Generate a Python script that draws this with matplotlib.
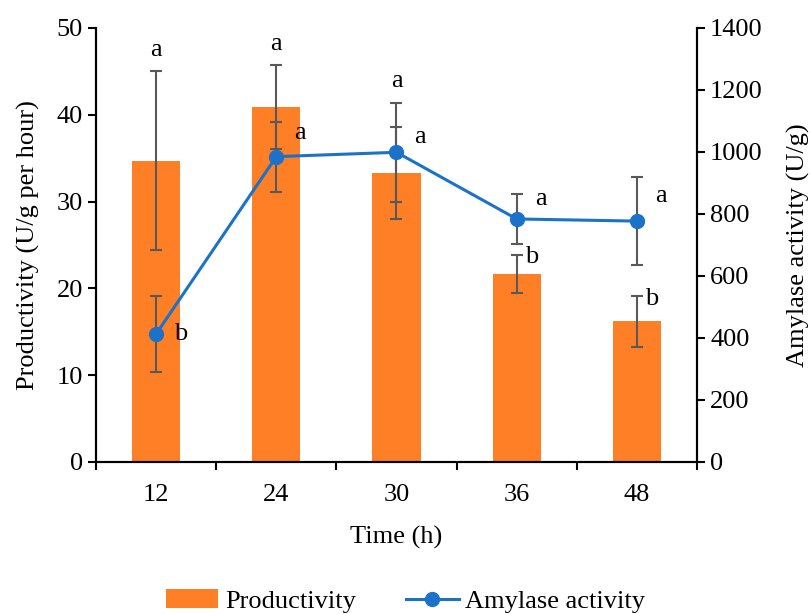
import numpy as np
import matplotlib
matplotlib.use("Agg")
import matplotlib.pyplot as plt
from matplotlib.lines import Line2D
from matplotlib.patches import Patch

plt.rcParams["font.family"] = ["Liberation Serif", "DejaVu Serif"]

# ── data ──────────────────────────────────────────────────────────────────────
times = ["12", "24", "30", "36", "48"]
productivity = [34.7, 40.9, 33.3, 21.7, 16.2]
productivity_err = [10.3, 4.8, 5.3, 2.2, 2.9]
productivity_letters = ["a", "a", "a", "b", "b"]

amylase = [413, 985, 999, 784, 777]
amylase_err = [124, 113, 160, 80, 141]
amylase_letters = ["b", "a", "a", "a", "a"]

ORANGE = "#FF7F27"
BLUE = "#1C72C9"
GREY = "#595959"
FS = 19

x = np.arange(len(times))

fig = plt.figure(figsize=(8.11, 6.14), dpi=100)
ax = fig.add_axes([0.1184, 0.2476, 0.741, 0.7068])
ax2 = ax.twinx()

# ── bars (left axis) ──────────────────────────────────────────────────────────
ax.bar(x, productivity, width=0.4, color=ORANGE, zorder=2)
ax.errorbar(x, productivity, yerr=productivity_err, fmt="none", ecolor=GREY,
            elinewidth=1.5, capsize=4.5, capthick=1.5, zorder=3)
ax.set_ylim(0, 50)
ax.set_xlim(-0.5, len(times) - 0.5)
ax.set_yticks(range(0, 51, 10))
ax.set_ylabel("Productivity (U/g per hour)", fontsize=FS, labelpad=12)
ax.set_xlabel("Time (h)", fontsize=FS, labelpad=14)
ax.set_xticks(x)
ax.set_xticklabels(times)
ax.set_xticks(np.arange(-0.5, len(times)), minor=True)
ax.tick_params(axis="x", which="major", length=0, labelsize=FS, pad=16)
ax.tick_params(axis="x", which="minor", length=6, width=1.5, direction="out")
ax.tick_params(axis="y", labelsize=FS, length=6, width=1.5, direction="out")

# ── line (right axis) ─────────────────────────────────────────────────────────
ax2.errorbar(x, amylase, yerr=amylase_err, fmt="none", ecolor=GREY,
             elinewidth=1.5, capsize=4.5, capthick=1.5, zorder=3)
ax2.plot(x, amylase, color=BLUE, lw=2.2, marker="o", ms=10, zorder=4)
ax2.set_ylim(0, 1400)
ax2.set_yticks(range(0, 1401, 200))
ax2.set_ylabel("Amylase activity (U/g)", fontsize=FS, labelpad=17)
ax2.tick_params(axis="y", labelsize=FS, length=6, width=1.5, direction="out")

for a in (ax, ax2):
    a.spines["top"].set_visible(False)
    for s in ("left", "right", "bottom"):
        a.spines[s].set_linewidth(1.5)

# ── significance letters ──────────────────────────────────────────────────────
scale = 50 / 1400  # right-axis units -> left-axis units
for i, lt in enumerate(productivity_letters):
    bar_top = productivity[i] + productivity_err[i]
    if i < 3:
        line_top = (amylase[i] + amylase_err[i]) * scale
        ax.text(x[i], max(bar_top, line_top) + 2.5, lt, ha="center", va="center", fontsize=FS)
    else:
        ax.text(x[i] + 0.07, bar_top - 0.3, lt, ha="left", va="center", fontsize=FS)

letter_dy = [0, 75, 50, 65, 80]
for i, lt in enumerate(amylase_letters):
    ax2.text(x[i] + 0.15, amylase[i] + letter_dy[i], lt, ha="left", va="center", fontsize=FS)

# ── legend ────────────────────────────────────────────────────────────────────
handles = [Patch(facecolor=ORANGE, edgecolor="none", label="Productivity"),
           Line2D([0], [0], color=BLUE, lw=2.2, marker="o", ms=10, label="Amylase activity")]
fig.legend(handles=handles, loc="lower center", bbox_to_anchor=(0.5, -0.037),
           ncol=2, frameon=False, fontsize=FS, handlelength=2.0,
           columnspacing=1.9, handletextpad=0.25)

plt.savefig("out.png", dpi=100)
